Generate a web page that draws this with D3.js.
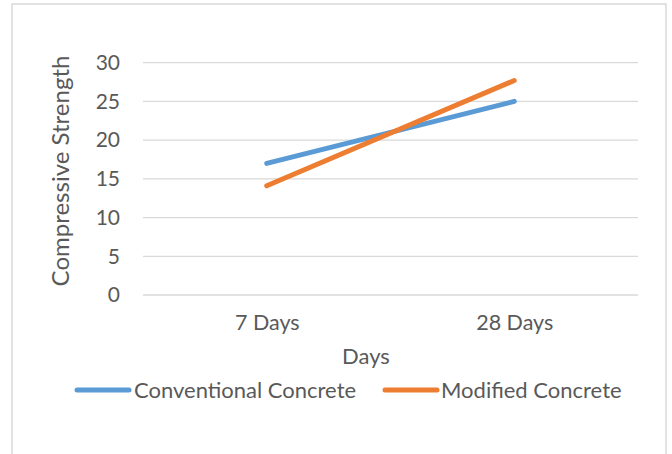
<!DOCTYPE html>
<html>
<head>
<meta charset="utf-8">
<script src="https://cdn.jsdelivr.net/npm/d3@7"></script>
<style>
  html, body { margin: 0; padding: 0; background: #fff; }
  svg text { font-family: Lato, "Open Sans", sans-serif; fill: #595959; }
</style>
</head>
<body>
<svg id="chart" width="672" height="454"></svg>
<script>
const categories = ["7 Days", "28 Days"];
const conventional = [17, 25];
const modified = [14.1, 27.7];
const yTicks = [0, 5, 10, 15, 20, 25, 30];
const seriesNames = ["Conventional Concrete", "Modified Concrete"];
const seriesColors = ["#5B9BD5", "#ED7D31"];

const svg = d3.select("#chart");
svg.append("rect").attr("width", 672).attr("height", 454).attr("fill", "#fff");
svg.append("rect").attr("x", 12).attr("y", 4).attr("width", 654).attr("height", 470)
  .attr("fill", "none").attr("stroke", "#D9D9D9").attr("stroke-width", 1.5);

const x = d3.scalePoint().domain(categories).range([143, 638]).padding(0.5);
const y = d3.scaleLinear().domain([0, 30]).range([295, 62.7]);

// gridlines
svg.append("g").selectAll("line").data(yTicks).join("line")
  .attr("x1", 143).attr("x2", 638)
  .attr("y1", d => y(d)).attr("y2", d => y(d))
  .attr("stroke", "#D9D9D9").attr("stroke-width", 1.3);

// y axis labels
const yAxis = svg.append("g").attr("transform", "translate(143,0)")
  .call(d3.axisLeft(y).tickValues(yTicks).tickSize(0).tickPadding(23));
yAxis.select(".domain").remove();
yAxis.selectAll("text").style("font-size", "21px").attr("fill", "#595959");

// x axis labels
const xAxis = svg.append("g").attr("transform", "translate(0,312)")
  .call(d3.axisBottom(x).tickSize(0).tickPadding(3));
xAxis.select(".domain").remove();
xAxis.selectAll("text").style("font-size", "21.5px").attr("fill", "#595959");

// axis titles
svg.append("text").attr("x", 366).attr("y", 364).attr("text-anchor", "middle")
  .style("font-size", "22px").text("Days");
svg.append("text").attr("transform", "translate(69,171) rotate(-90)")
  .attr("text-anchor", "middle").style("font-size", "24px").text("Compressive Strength");

// lines
const line = d3.line().x((d, i) => x(categories[i])).y(d => y(d));
[conventional, modified].forEach((vals, k) => {
  svg.append("path").datum(vals).attr("d", line)
    .attr("fill", "none").attr("stroke", seriesColors[k])
    .attr("stroke-width", 5).attr("stroke-linecap", "round");
});

// legend
const legendPos = [{x1: 77, x2: 129, tx: 134}, {x1: 385, x2: 437, tx: 441}];
seriesNames.forEach((name, k) => {
  const p = legendPos[k];
  svg.append("line").attr("x1", p.x1).attr("x2", p.x2).attr("y1", 390).attr("y2", 390)
    .attr("stroke", seriesColors[k]).attr("stroke-width", 5).attr("stroke-linecap", "round");
  svg.append("text").attr("x", p.tx).attr("y", 397.5).style("font-size", "22px").text(name);
});
</script>
</body>
</html>
